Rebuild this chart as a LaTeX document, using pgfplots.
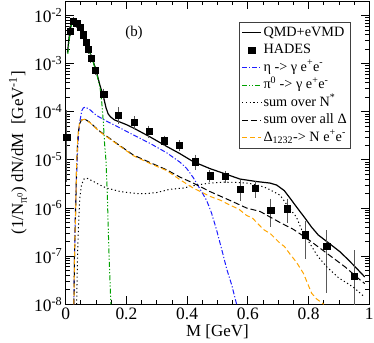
\documentclass[border=0pt]{standalone}
\usepackage{pgfplots}
\pgfplotsset{compat=1.18}
\usepackage{fontspec}
\setmainfont{Liberation Serif}
\definecolor{myblue}{RGB}{30,30,255}
\definecolor{mygreen}{RGB}{0,160,0}
\definecolor{myorange}{RGB}{255,165,0}
\begin{document}
\begin{tikzpicture}
\begin{axis}[
  scale only axis, width=303.6bp, height=303.3bp,
  ymode=log, xmin=0, xmax=1, ymin=1e-8, ymax=2e-2,
  axis line style={line width=1bp},
  every tick/.style={black, line width=0.8bp},
  major tick length=8bp, minor tick length=4.5bp,
  xtick={0,0.2,0.4,0.6,0.8,1}, minor x tick num=3,
  xticklabels={0,0.2,0.4,0.6,0.8,1},
  ytick={1e-8,1e-7,1e-6,1e-5,1e-4,1e-3,1e-2},
  yticklabels={10\textsuperscript{-8},10\textsuperscript{-7},10\textsuperscript{-6},10\textsuperscript{-5},10\textsuperscript{-4},10\textsuperscript{-3},10\textsuperscript{-2}},
  tick label style={font=\fontsize{17.5}{20}\selectfont},
  xlabel={M [GeV]},
  ylabel={(1/N\textsubscript{π\textsuperscript{0}}) dN/dM \ [GeV\textsuperscript{-1}]},
  label style={font=\fontsize{17}{20}\selectfont},
  xlabel style={at={(axis description cs:0.5,-0.0903)}, anchor=center},
  ylabel style={at={(axis description cs:-0.157,0.5)}, anchor=center},
  legend style={at={(0.571,0.932)}, anchor=north west, draw=black!75, line width=0.8bp,
    font=\fontsize{14.3}{16}\selectfont, inner sep=2bp, row sep=0bp,
    nodes={inner sep=1.8bp, text height=10.3bp, text depth=3.6bp}},
  legend cell align=left,
  legend image post style={xscale=1.12},
  error bars/error bar style={line width=0.9bp, black!65},
  error bars/error mark options={mark size=2.8bp, line width=0.9bp, black!65},
]
% total QMD+eVMD
\addplot[black, line width=1.2bp] coordinates {
(0.006,1.7e-3)(0.012,4.0e-3)(0.018,6.5e-3)(0.025,7.9e-3)(0.035,7.2e-3)(0.047,5.5e-3)
(0.058,4.0e-3)(0.069,2.8e-3)(0.08,1.7e-3)(0.091,1.1e-3)(0.102,6.5e-4)(0.113,3.5e-4)
(0.124,2.1e-4)(0.133,1.2e-4)(0.14,9.0e-5)(0.148,7.8e-5)(0.16,6.8e-5)(0.2,5.4e-5)
(0.223,4.6e-5)(0.278,3.0e-5)(0.333,1.9e-5)(0.376,1.35e-5)(0.42,9.2e-6)(0.475,6.6e-6)
(0.53,5.0e-6)(0.574,4.0e-6)(0.629,3.55e-6)(0.673,3.3e-6)(0.695,3.0e-6)(0.72,2.3e-6)
(0.739,1.6e-6)(0.763,1.0e-6)(0.788,6.2e-7)(0.81,4.0e-7)(0.832,2.75e-7)(0.87,1.8e-7)
(0.903,1.24e-7)(0.93,8.5e-8)(0.958,5.6e-8)(0.985,3.7e-8)};
\addlegendentry{QMD+eVMD}
% HADES data
\addplot[only marks, mark=square*, mark size=3.1bp, black,
  error bars/.cd, y dir=both, y explicit]
  table[x=M, y=Y, y error plus=EP, y error minus=EM] {
M Y EP EM
0.003 3.0e-5 6.5e-5 2.6e-5
0.014 4.7e-3 5e-4 5e-4
0.025 7.5e-3 6e-4 6e-4
0.036 6.9e-3 5e-4 5e-4
0.047 5.7e-3 4e-4 4e-4
0.058 4.0e-3 3e-4 3e-4
0.067 2.75e-3 2e-4 2e-4
0.075 2.0e-3 1.5e-4 1.5e-4
0.083 1.3e-3 1e-4 1e-4
0.0965 7.2e-4 6e-5 6e-5
0.125 2.35e-4 3e-5 3e-5
0.173 8.6e-5 2.2e-5 2.2e-5
0.225 6.0e-5 1e-5 1e-5
0.274 3.9e-5 6e-6 6e-6
0.324 2.5e-5 3e-6 3e-6
0.374 2.0e-5 2.5e-6 2.5e-6
0.426 9.2e-6 2e-6 2e-6
0.475 4.7e-6 7e-7 7e-7
0.525 4.5e-6 7e-7 7e-7
0.575 2.46e-6 8.5e-7 8.5e-7
0.625 2.55e-6 7e-7 7e-7
0.675 9.1e-7 4.4e-7 4.4e-7
0.73 9.7e-7 4e-7 4e-7
0.79 2.8e-7 1.8e-7 1.8e-7
0.86 1.6e-7 1.4e-7 1.4e-7
0.95 3.8e-8 7.7e-8 3.7e-8
};
\addlegendentry{HADES}
% eta
\addplot[myblue, line width=1bp, dash pattern=on 5bp off 2bp on 1.2bp off 2bp] coordinates {
(0.027,1e-8)(0.029,1e-7)(0.032,1e-6)(0.036,5e-6)(0.04,2e-5)(0.045,5.5e-5)(0.053,1.05e-4)
(0.058,1.2e-4)(0.065,1.25e-4)(0.08,1.1e-4)(0.1,8.5e-5)(0.13,6.6e-5)(0.168,5.0e-5)
(0.223,3.3e-5)(0.278,2.2e-5)(0.333,1.4e-5)(0.376,9e-6)(0.398,6.7e-6)(0.42,4.3e-6)
(0.442,2.5e-6)(0.464,1.45e-6)(0.48,8e-7)(0.497,3.5e-7)(0.515,1.3e-7)(0.53,5.5e-8)
(0.547,2.5e-8)(0.563,1e-8)};
\addlegendentry{η -> γ e\textsuperscript{+}e\textsuperscript{-}}
% pi0
\addplot[mygreen, line width=1bp, dash pattern=on 5bp off 2bp on 1.2bp off 2bp on 1.2bp off 2bp] coordinates {
(0.007,1.6e-3)(0.012,3.2e-3)(0.017,5.6e-3)(0.021,7.2e-3)(0.025,7.8e-3)(0.035,7.0e-3)
(0.047,5.3e-3)(0.058,3.9e-3)(0.069,2.7e-3)(0.08,1.65e-3)(0.091,1.05e-3)(0.102,6.2e-4)
(0.113,3.2e-4)(0.118,1.8e-4)(0.124,6e-5)(0.128,2.2e-5)(0.133,9e-6)(0.137,2e-6)
(0.14,4e-7)(0.144,6e-8)(0.149,1e-8)};
\addlegendentry{π\textsuperscript{0} -> γ e\textsuperscript{+}e\textsuperscript{-}}
% N*
\addplot[black, line width=1bp, dash pattern=on 1.2bp off 2.6bp] coordinates {
(0.036,1e-8)(0.039,1e-7)(0.042,4e-7)(0.046,1.5e-6)(0.052,3e-6)(0.06,4e-6)(0.069,4.2e-6)
(0.09,3.6e-6)(0.113,3.0e-6)(0.135,2.6e-6)(0.18,2.2e-6)(0.234,2.0e-6)(0.26,1.98e-6)
(0.3,2.1e-6)(0.343,2.45e-6)(0.387,2.6e-6)(0.43,3.0e-6)(0.475,3.3e-6)(0.52,3.45e-6)
(0.56,3.4e-6)(0.6,3.3e-6)(0.64,2.9e-6)(0.662,2.6e-6)(0.706,1.85e-6)(0.739,9.5e-7)
(0.76,6.5e-7)(0.78,3.2e-7)(0.805,1.8e-7)(0.83,1.0e-7)(0.86,6e-8)(0.9,3.5e-8)
(0.925,2.8e-8)(0.95,2.2e-8)(0.98,1.5e-8)};
\addlegendentry{sum over N\textsuperscript{*}}
% sum Delta
\addplot[black, line width=1bp, dash pattern=on 6bp off 3bp] coordinates {
(0.027,1e-8)(0.029,1e-7)(0.033,1e-6)(0.036,8e-6)(0.04,3e-5)(0.045,5.5e-5)(0.052,6.7e-5)
(0.062,7.1e-5)(0.08,6e-5)(0.1,4.6e-5)(0.113,3.9e-5)(0.168,2.2e-5)(0.223,1.26e-5)
(0.278,8.8e-6)(0.333,6.2e-6)(0.376,4.4e-6)(0.42,3.3e-6)(0.475,2.2e-6)(0.54,1.45e-6)
(0.596,1.0e-6)(0.64,8.5e-7)(0.706,5.0e-7)(0.75,3.6e-7)(0.794,2.35e-7)(0.86,1.15e-7)
(0.92,6e-8)(0.97,3.2e-8)(0.985,2.7e-8)};
\addlegendentry{sum over all Δ}
% Delta 1232
\addplot[myorange, line width=1bp, dash pattern=on 5bp off 3bp] coordinates {
(0.027,1e-8)(0.029,1e-7)(0.033,1e-6)(0.036,8e-6)(0.04,3e-5)(0.045,5.5e-5)(0.052,6.7e-5)
(0.062,7.0e-5)(0.08,5.9e-5)(0.1,4.5e-5)(0.113,3.8e-5)(0.168,2.15e-5)(0.223,1.22e-5)
(0.278,8.4e-6)(0.333,6.0e-6)(0.376,3.9e-6)(0.42,2.6e-6)(0.475,1.75e-6)(0.51,1.45e-6)
(0.541,1.15e-6)(0.57,9.5e-7)(0.596,7.0e-7)(0.615,6.2e-7)(0.651,3.6e-7)(0.675,2.9e-7)
(0.706,1.85e-7)(0.72,1.6e-7)(0.739,1.1e-7)(0.76,7.5e-8)(0.783,4.4e-8)(0.81,1.7e-8)
(0.826,1.3e-8)(0.85,1e-8)};
\addlegendentry{Δ\textsubscript{1232}-> N e\textsuperscript{+}e\textsuperscript{-}}
\node[font=\fontsize{15}{18}\selectfont] at (axis description cs:0.225,0.894) {(b)};
\end{axis}
\pgfresetboundingbox
\path[use as bounding box] ([xshift=-65.7bp,yshift=-38.7bp]current axis.south west) rectangle ([xshift=4.7bp,yshift=1bp]current axis.north east);
\end{tikzpicture}
\end{document}
